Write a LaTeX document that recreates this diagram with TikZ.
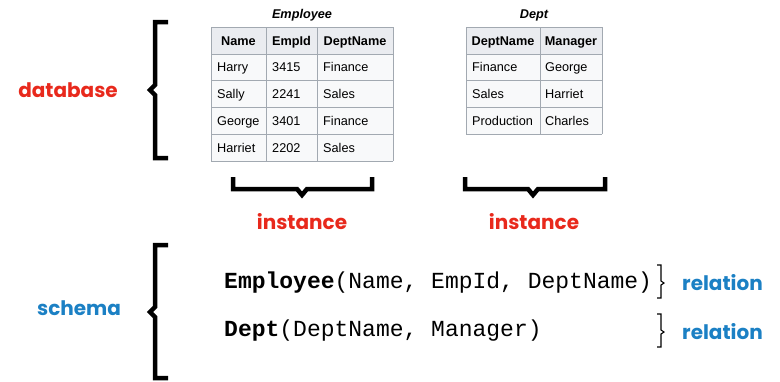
\documentclass[tikz,border=0pt]{standalone}
\usepackage{fontspec}
\setmainfont{Liberation Sans}
\newfontfamily\lblfont{Poppins}
\newfontfamily\codefont{Liberation Mono}
\definecolor{dbred}{RGB}{232,41,28}
\definecolor{schblue}{RGB}{27,128,196}
\definecolor{gridgray}{RGB}{162,169,177}
\definecolor{headgray}{RGB}{234,236,240}
\definecolor{cellgray}{RGB}{248,249,250}

\begin{document}
\begin{tikzpicture}[x=1pt,y=-1pt,
    cell/.style={anchor=base west,inner sep=0pt,font=\fontsize{12.7}{14}\selectfont},
    headcell/.style={anchor=base,inner sep=0pt,font=\fontsize{12.7}{14}\selectfont\bfseries},
    tabtitle/.style={font=\fontsize{12.7}{14}\selectfont\bfseries\itshape},
    bigbrace/.style={line width=4.5pt},
    smallbrace/.style={line width=1.1pt},
    lbl/.style={inner sep=0pt,font=\fontsize{20}{24}\selectfont\lblfont\bfseries},
    schemaline/.style={anchor=base west,inner sep=0pt,font=\fontsize{23}{26}\selectfont\codefont}]
\useasboundingbox (0,0) rectangle (780,381);

% Employee table
\node[tabtitle] (emptitle) at (302,15) {Employee};
\fill[headgray] (211,27) rectangle (393,53.8);
\fill[cellgray] (211,53.8) rectangle (393,161);
\foreach \y in {27,53.8,80.6,107.4,134.2,161} \draw[gridgray] (211,\y) -- (393,\y);
\foreach \x in {211,266,317,393} \draw[gridgray] (\x,27) -- (\x,161);
\node[headcell] (emp-h1) at (238.5,45) {Name};
\node[headcell] (emp-h2) at (291.5,45) {EmpId};
\node[headcell] (emp-h3) at (355,45) {DeptName};
\foreach \ename/\eid/\edept [count=\r] in {Harry/3415/Finance, Sally/2241/Sales,
    George/3401/Finance, Harriet/2202/Sales} {
  \node[cell] (emp-\r-1) at (217,45+26.8*\r) {\ename};
  \node[cell] (emp-\r-2) at (272,45+26.8*\r) {\eid};
  \node[cell] (emp-\r-3) at (323,45+26.8*\r) {\edept};
}

% Dept table
\node[tabtitle] (depttitle) at (534,15) {Dept};
\fill[headgray] (466,27) rectangle (602,53.8);
\fill[cellgray] (466,53.8) rectangle (602,134.2);
\foreach \y in {27,53.8,80.6,107.4,134.2} \draw[gridgray] (466,\y) -- (602,\y);
\foreach \x in {466,540,602} \draw[gridgray] (\x,27) -- (\x,134.2);
\node[headcell] (dept-h1) at (503,45) {DeptName};
\node[headcell] (dept-h2) at (571,45) {Manager};
\foreach \dname/\dmgr [count=\r] in {Finance/George, Sales/Harriet, Production/Charles} {
  \node[cell] (dept-\r-1) at (472,45+26.8*\r) {\dname};
  \node[cell] (dept-\r-2) at (545,45+26.8*\r) {\dmgr};
}

% braces
\draw[bigbrace] (168,22) -- (155,22) -- (155,85) -- (150,90) -- (155,95) -- (155,158) -- (168,158);
\draw[bigbrace] (168,245) -- (155,245) -- (155,307) -- (150,312) -- (155,317) -- (155,378) -- (168,378);
\draw[bigbrace] (233,177) -- (233,189) -- (297,189) -- (302,195) -- (307,189) -- (372,189) -- (372,177);
\draw[bigbrace] (465,177) -- (465,189) -- (528,189) -- (533,195) -- (538,189) -- (605,189) -- (605,177);
\draw[smallbrace] (657,265) -- (661,265) -- (661,281) -- (664,283) -- (661,285) -- (661,298) -- (657,298);
\draw[smallbrace] (657,314) -- (661,314) -- (661,330) -- (664,332) -- (661,334) -- (661,347) -- (657,347);

% labels
\node[lbl,text=dbred] (database) at (68,90) {database};
\node[lbl,text=dbred] (inst1) at (302,222) {instance};
\node[lbl,text=dbred] (inst2) at (534,222) {instance};
\node[lbl,text=schblue] (schema) at (79,308) {schema};
\node[lbl,text=schblue,anchor=west] (rel1) at (682,283) {relation};
\node[lbl,text=schblue,anchor=west] (rel2) at (682,332) {relation};

% schema lines
\node[schemaline] (emprel) at (224,288) {\textbf{Employee}(Name, EmpId, DeptName)};
\node[schemaline] (deptrel) at (224,336) {\textbf{Dept}(DeptName, Manager)};
\end{tikzpicture}
\end{document}
